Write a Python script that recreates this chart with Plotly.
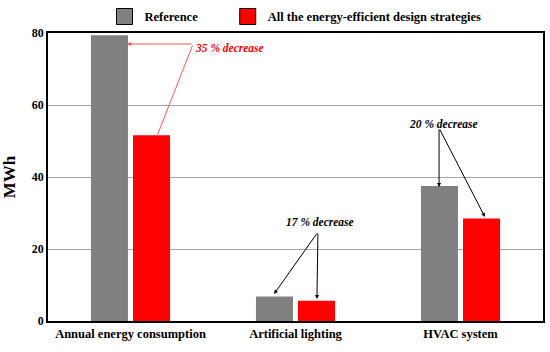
import plotly.graph_objects as go

categories = ["Annual energy consumption", "Artificial lighting", "HVAC system"]
reference = [79.4, 6.8, 37.5]
efficient = [51.6, 5.6, 28.5]
series_names = ["Reference", "All the energy-efficient design strategies"]
y_ticks = [0, 20, 40, 60, 80]

FONT = "Liberation Serif, Times New Roman, serif"
GRAY = "#808080"
RED = "#ff0000"

fig = go.Figure()
fig.add_trace(go.Bar(x=categories, y=reference, marker=dict(color=GRAY, line=dict(width=0)),
                     showlegend=False, name=series_names[0]))
fig.add_trace(go.Bar(x=categories, y=efficient, marker=dict(color=RED, line=dict(width=0)),
                     showlegend=False, name=series_names[1]))
# legend entries (boxes with black border)
pads = ["\u00a0" * 8, ""]
for nm, col, pad in zip(series_names, [GRAY, RED], pads):
    fig.add_trace(go.Scatter(x=[None], y=[None], mode="markers", name=nm + pad,
                             marker=dict(symbol="square", size=18, color=col,
                                         line=dict(color="black", width=1))))

annots = []
def arrow(x, y, ax, ay, color, head=2):
    annots.append(dict(x=x, y=y, ax=ax, ay=ay, xref="x", yref="y", axref="x", ayref="y",
                       text="", showarrow=True, arrowhead=head, arrowsize=0.8, arrowwidth=1,
                       arrowcolor=color, standoff=0, startstandoff=0))

def label(x, y, text, color):
    annots.append(dict(x=x, y=y, xref="x", yref="y", text=text, showarrow=False,
                       font=dict(family=FONT, size=11.5, color=color, weight="bold", style="italic")))

LRED = "#ff5a5a"
# 35 %
arrow(-0.021, 76.94, 0.379, 76.94, LRED)
arrow(0.161, 51.4, 0.379, 76.94, LRED, head=0)
label(0.60, 75.8, "35 % decrease", RED)
# 17 %
arrow(0.870, 7.5, 1.136, 24.72, "black")
arrow(1.130, 6.11, 1.136, 24.72, "black")
label(1.148, 27.5, "17 % decrease", "black")
# 20 %
arrow(1.870, 37.2, 1.870, 53.6, "black")
arrow(2.148, 28.9, 1.870, 53.6, "black")
label(1.897, 54.7, "20 % decrease", "black")

fig.update_layout(
    width=550, height=352,
    margin=dict(l=48, r=7, t=33, b=31, autoexpand=False),
    paper_bgcolor="white", plot_bgcolor="white",
    barmode="group", bargap=0.49, bargroupgap=0.12,
    font=dict(family=FONT, color="black"),
    annotations=annots,
    legend=dict(orientation="h", xref="container", yref="container",
                x=0.19, xanchor="left", y=0.952, yanchor="middle",
                font=dict(family=FONT, size=12.5, weight="bold"),
                itemsizing="trace", bgcolor="rgba(0,0,0,0)"),
)
fig.update_xaxes(type="category", range=[-0.5, 2.5], showline=True, linecolor="black", linewidth=1.5,
                 mirror=True, ticks="", showgrid=False, automargin=False,
                 tickfont=dict(family=FONT, size=12.5, weight="bold"))
fig.update_yaxes(range=[0, 80], tickvals=y_ticks, showline=True, linecolor="black", linewidth=1.5,
                 mirror=True, ticks="", showgrid=True, gridcolor="#a8a8a8", gridwidth=1,
                 zeroline=False, automargin=False,
                 tickfont=dict(family=FONT, size=12, weight="bold"),
                 title=dict(text="MWh", font=dict(family=FONT, size=17, weight="bold")))
fig.write_html("out.html", config={"displayModeBar": False},
               post_script="document.body.style.margin='0';document.body.style.overflow='hidden';")
